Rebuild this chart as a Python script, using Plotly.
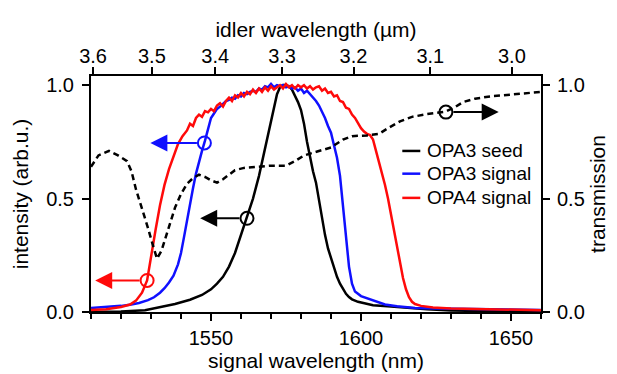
import plotly.graph_objects as go

# ---------------- data ----------------
seed_wl = [1510, 1520, 1528, 1533, 1538, 1543, 1547, 1550, 1552, 1554, 1556, 1558, 1560, 1562,
           1564, 1566, 1568, 1570, 1571, 1572, 1573, 1574, 1575, 1576, 1577, 1578, 1579, 1580,
           1581, 1582, 1583, 1584, 1585, 1586, 1587, 1588, 1589, 1590, 1591, 1592, 1593, 1594,
           1595, 1596, 1597, 1599, 1601, 1604, 1610, 1615, 1622, 1630, 1640, 1660]
seed_int = [0.0, 0.002, 0.008, 0.02, 0.035, 0.054, 0.075, 0.1, 0.125, 0.155, 0.2, 0.26, 0.34, 0.413,
            0.5, 0.6, 0.72, 0.85, 0.91, 0.96, 0.99, 1.0, 1.0, 0.995, 0.98, 0.955, 0.925, 0.89,
            0.83, 0.75, 0.68, 0.62, 0.57, 0.49, 0.405, 0.34, 0.28, 0.235, 0.19, 0.155, 0.125, 0.1,
            0.08, 0.066, 0.056, 0.045, 0.038, 0.03, 0.024, 0.018, 0.012, 0.007, 0.004, 0.002]

opa3_wl = [1510, 1515, 1520, 1523, 1526, 1529, 1531, 1533, 1534.5, 1536, 1537.5, 1539, 1540, 1541,
           1542, 1543, 1544, 1545, 1546, 1547, 1548, 1549, 1550, 1551, 1552, 1553, 1554, 1555,
           1556, 1557, 1558, 1559, 1560, 1561, 1562, 1563, 1564, 1565, 1566, 1567, 1568, 1569,
           1570, 1571, 1572, 1573, 1574, 1575, 1576, 1577, 1578, 1579, 1580, 1581, 1582, 1583,
           1584, 1585, 1586, 1587, 1588, 1589, 1590, 1591, 1592, 1593, 1594, 1595, 1596, 1597,
           1598, 1600, 1602, 1605, 1608, 1612, 1618, 1625, 1635, 1645, 1660]
opa3_int = [0.018, 0.022, 0.027, 0.032, 0.04, 0.052, 0.065, 0.085, 0.105, 0.13, 0.16, 0.21, 0.26, 0.33,
            0.405, 0.48, 0.545, 0.61, 0.665, 0.71, 0.755, 0.81, 0.855, 0.875, 0.895, 0.905, 0.92, 0.93,
            0.935, 0.945, 0.94, 0.955, 0.95, 0.965, 0.96, 0.97, 0.975, 0.97, 0.985, 0.98, 0.995, 0.99,
            1.005, 0.99, 1.0, 0.995, 1.0, 0.99, 0.995, 0.985, 0.99, 0.975, 0.985, 0.965, 0.975, 0.96,
            0.945, 0.93, 0.91, 0.885, 0.855, 0.82, 0.79, 0.735, 0.68, 0.6, 0.47, 0.32, 0.2, 0.125,
            0.09, 0.07, 0.06, 0.045, 0.033, 0.025, 0.018, 0.015, 0.014, 0.013, 0.009]

opa4_wl = [1510, 1515, 1520, 1523, 1525, 1527, 1528.7, 1530, 1531.5, 1533, 1534.5, 1536, 1537.5, 1539,
           1540.5, 1542, 1543, 1544, 1545, 1546, 1547, 1548, 1549, 1550, 1551, 1552, 1553, 1554,
           1555, 1556, 1557, 1558, 1559, 1560, 1561, 1562, 1563, 1564, 1565, 1566, 1567, 1568,
           1569, 1570, 1571, 1572, 1573, 1574, 1575, 1576, 1577, 1578, 1579, 1580, 1581, 1582,
           1583, 1584, 1585, 1586, 1587, 1588, 1589, 1590, 1591, 1592, 1593, 1594, 1595, 1596,
           1597, 1598, 1599, 1600, 1601, 1602, 1603, 1604, 1605, 1606, 1607, 1608, 1609, 1610,
           1611, 1612, 1613, 1614, 1615, 1616, 1617, 1618, 1620, 1624, 1630, 1640, 1650, 1660]
opa4_int = [0.009, 0.012, 0.022, 0.033, 0.05, 0.085, 0.139, 0.25, 0.36, 0.47, 0.56, 0.63, 0.69, 0.74,
            0.775, 0.8, 0.83, 0.82, 0.855, 0.87, 0.86, 0.885, 0.88, 0.895, 0.885, 0.91, 0.92, 0.905,
            0.93, 0.945, 0.93, 0.955, 0.945, 0.965, 0.95, 0.97, 0.96, 0.98, 0.965, 0.985, 0.97, 0.99,
            0.975, 0.995, 0.98, 0.99, 1.0, 0.985, 1.005, 0.99, 1.0, 0.985, 1.0, 0.99, 1.0, 0.985,
            0.995, 0.98, 0.99, 0.995, 0.975, 0.985, 0.965, 0.97, 0.95, 0.955, 0.93, 0.925, 0.9, 0.895,
            0.87, 0.855, 0.83, 0.81, 0.795, 0.785, 0.78, 0.76, 0.71, 0.66, 0.615, 0.56, 0.5, 0.43,
            0.36, 0.29, 0.21, 0.15, 0.1, 0.065, 0.045, 0.035, 0.027, 0.02, 0.015, 0.012, 0.01, 0.008]

trans_wl = [1510, 1512.5, 1516, 1519, 1522, 1523.5, 1525, 1527, 1529, 1530.5, 1532, 1533.5, 1535,
            1536.5, 1538, 1540, 1542, 1544, 1546, 1548, 1550, 1552, 1554, 1556, 1558, 1561, 1565,
            1570, 1575, 1578, 1581, 1585, 1590, 1594, 1597, 1602, 1606, 1609, 1613, 1617, 1622,
            1628, 1631, 1634, 1638, 1643, 1648, 1653, 1660]
trans_val = [0.64, 0.69, 0.71, 0.69, 0.665, 0.62, 0.54, 0.46, 0.37, 0.3, 0.235, 0.27, 0.33,
             0.4, 0.46, 0.52, 0.565, 0.59, 0.605, 0.595, 0.58, 0.57, 0.585, 0.605, 0.625, 0.635, 0.64,
             0.645, 0.645, 0.665, 0.69, 0.705, 0.725, 0.76, 0.775, 0.778, 0.785, 0.81, 0.84, 0.86, 0.872,
             0.882, 0.9, 0.925, 0.94, 0.95, 0.955, 0.962, 0.97]

series_names = ["OPA3 seed", "OPA3 signal", "OPA4 signal"]
series_colors = ["#000000", "#1010ff", "#ff0a0a"]

# top axis: idler wavelength labels and the signal wavelength at which each sits
idler_labels = ["3.6", "3.5", "3.4", "3.3", "3.2", "3.1", "3.0"]
idler_at_signal = [1510.7, 1530.3, 1551.4, 1573.7, 1597.5, 1623.1, 1650.3]

# arrow markers: circle (x, y), arrow head x, colour
marker_x = [1547.8, 1562.0, 1528.7, 1628.3]
marker_y = [0.745, 0.413, 0.139, 0.881]
arrow_tip_x = [1529.8, 1546.4, 1511.4, 1645.9]
marker_colors = ["#1010ff", "#000000", "#ff0a0a", "#000000"]

FONT = "Liberation Sans, Arial, Helvetica, sans-serif"

fig = go.Figure()
for wl, val, name, col in zip([seed_wl, opa3_wl, opa4_wl], [seed_int, opa3_int, opa4_int],
                              series_names, series_colors):
    fig.add_trace(go.Scatter(x=wl, y=val, mode="lines", name=name,
                             line=dict(color=col, width=2.5), showlegend=False))

fig.add_trace(go.Scatter(x=trans_wl, y=trans_val, mode="lines", yaxis="y2",
                         line=dict(color="black", width=2.5, dash="6px,4px"), showlegend=False))

# invisible trace to bring up the top axis
fig.add_trace(go.Scatter(x=idler_at_signal, y=[None] * len(idler_at_signal), xaxis="x2",
                         mode="markers", showlegend=False, hoverinfo="skip"))

# arrows
for cx, cy, tx, col in zip(marker_x, marker_y, arrow_tip_x, marker_colors):
    tail = cx - 2.0 if tx < cx else cx + 2.0
    fig.add_annotation(x=tx, y=cy, ax=tail, ay=cy, xref="x", yref="y", axref="x", ayref="y",
                       showarrow=True, arrowhead=2, arrowsize=1.7, arrowwidth=2,
                       arrowcolor=col, text="")

fig.add_trace(go.Scatter(x=marker_x, y=marker_y, mode="markers", showlegend=False,
                         marker=dict(symbol="circle-open", size=13,
                                     color=marker_colors, line=dict(width=2, color=marker_colors))))

# legend drawn by hand
L = 90.7; W = 450.0; B = 312.3; H = 236.8
def px(xp): return (xp - L) / W
def py(yp): return (B - yp) / H
legend_rows = [150.7, 173.5, 197.8]
for name, col, ry in zip(series_names, series_colors, legend_rows):
    fig.add_shape(type="line", xref="paper", yref="paper", x0=px(402), x1=px(420),
                  y0=py(ry), y1=py(ry), line=dict(color=col, width=2.5))
    fig.add_annotation(xref="paper", yref="paper", x=px(425), y=py(ry), text=name,
                       showarrow=False, xanchor="left", yanchor="middle",
                       font=dict(size=19, color="black", family=FONT))

axis_common = dict(showline=True, linewidth=2, linecolor="black", ticks="outside",
                   tickwidth=2, tickcolor="black", showgrid=False, zeroline=False,
                   automargin=False,
                   tickfont=dict(size=20, color="black", family=FONT))

fig.update_layout(
    width=617, height=374,
    margin=dict(l=90.7, r=76.3, t=75.5, b=61.7, autoexpand=False),
    paper_bgcolor="white", plot_bgcolor="white",
    font=dict(family=FONT, color="black"),
    xaxis=dict(range=[1510, 1660], tickvals=[1550, 1600, 1650], ticklen=7,
               ticklabelstandoff=0,
               minor=dict(dtick=10, tick0=1510, ticklen=5, tickwidth=2, ticks="outside",
                          tickcolor="black"),
               title=dict(text="signal wavelength (nm)", font=dict(size=21), standoff=0),
               **axis_common),
    xaxis2=dict(range=[1510, 1660], overlaying="x", side="top", anchor="y",
                tickvals=idler_at_signal, ticktext=idler_labels, ticklen=7,
                ticklabelstandoff=-4,
                title=dict(text="idler wavelength (µm)", font=dict(size=21), standoff=2),
                **axis_common),
    yaxis=dict(range=[0, 1.04], tickvals=[0, 0.5, 1.0], tickformat=".1f", ticklen=7,
               ticklabelstandoff=4,
               title=dict(text="intensity (arb.u.)", font=dict(size=21), standoff=12),
               **axis_common),
    yaxis2=dict(range=[0, 1.04], tickvals=[0, 0.5, 1.0], tickformat=".1f", ticklen=7,
                ticklabelstandoff=3,
                overlaying="y", side="right", anchor="x",
                title=dict(text="transmission", font=dict(size=21), standoff=6),
                **axis_common),
)

fig.write_html("out.html", config={"displayModeBar": False},
               post_script="document.body.style.margin='0';document.body.style.padding='0';")
